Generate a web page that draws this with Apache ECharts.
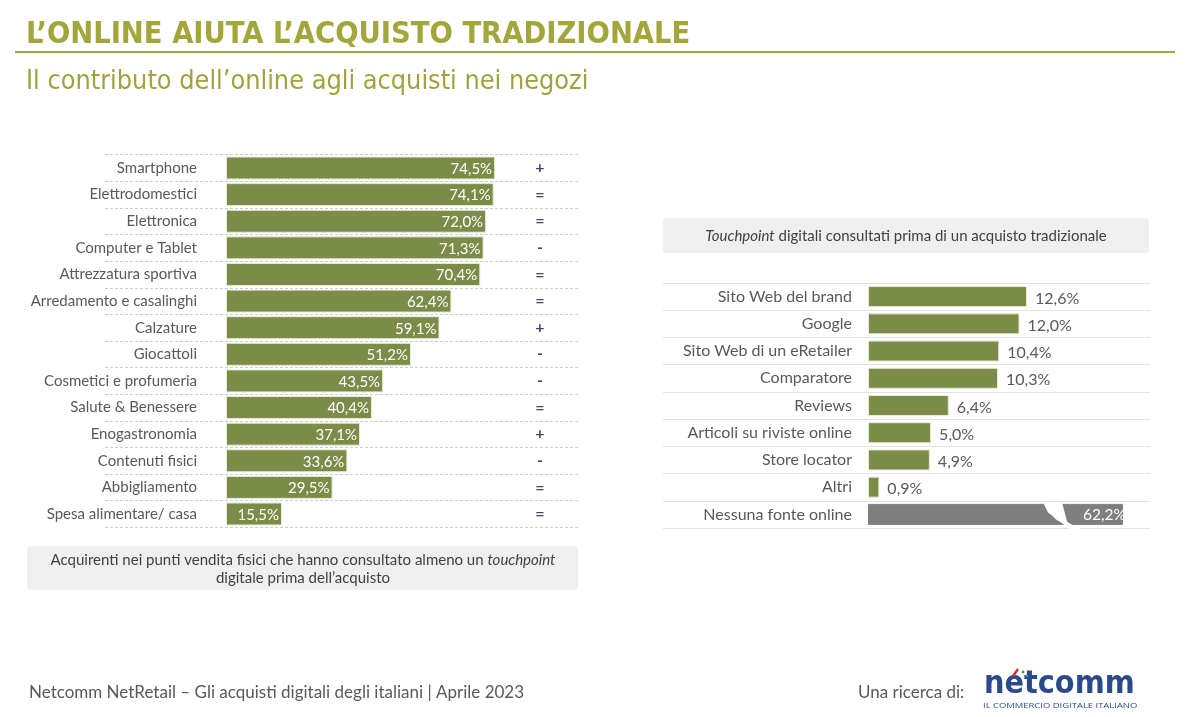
<!DOCTYPE html>
<html>
<head>
<meta charset="utf-8">
<script src="https://cdn.jsdelivr.net/npm/echarts@6/dist/echarts.min.js"></script>
<style>html,body{margin:0;padding:0;background:#fff;}#c{width:1200px;height:717px;}</style>
</head>
<body>
<div id="c"></div>
<script>
// ---- data ----
const leftCategories = ['Smartphone','Elettrodomestici','Elettronica','Computer e Tablet','Attrezzatura sportiva','Arredamento e casalinghi','Calzature','Giocattoli','Cosmetici e profumeria','Salute & Benessere','Enogastronomia','Contenuti fisici','Abbigliamento','Spesa alimentare/ casa'];
const leftValues = [74.5,74.1,72.0,71.3,70.4,62.4,59.1,51.2,43.5,40.4,37.1,33.6,29.5,15.5];
const leftTrend = ['+','=','=','-','=','=','+','-','-','=','+','-','=','='];
const rightCategories = ['Sito Web del brand','Google','Sito Web di un eRetailer','Comparatore','Reviews','Articoli su riviste online','Store locator','Altri','Nessuna fonte online'];
const rightValues = [12.6,12.0,10.4,10.3,6.4,5.0,4.9,0.9,62.2];
const axisBreak = {start:14.5, end:58.5};

const fmt = v => v.toFixed(1).replace('.', ',') + '%';
const GREEN = '#7a8c47';
const GREY_TXT = '#595959';
const FONT = 'Lato';

const chart = echarts.init(document.getElementById('c'), null, {renderer:'canvas'});

const lTop = 154.7, lH = 372.6;
const rTop = 283, rH = 245;

const rightData = rightValues.map((v,i) => {
  if (i === rightValues.length - 1) {
    return {value: v, itemStyle:{color:'#7f7f7f', borderColor:'#7f7f7f'},
      label:{position:'insideRight', color:'#fff', offset:[3,1], distance:0, fontSize:15.5}};
  }
  return v;
});

const baseGraphic = [
  {type:'line', shape:{x1:15,y1:52,x2:1175,y2:52}, style:{stroke:'#a3a63a', lineWidth:2}},
  {type:'rect', shape:{x:27,y:546,width:551,height:44,r:4}, style:{fill:'#efefef'}, z:-1},
  {type:'text', x:303, y:560, style:{text:'{n|Acquirenti nei punti vendita fisici che hanno consultato almeno un }{i|touchpoint}', align:'center', verticalAlign:'middle',
    rich:{n:{fontFamily:FONT,fontSize:15,fill:'#404040'}, i:{fontFamily:FONT,fontSize:15,fontStyle:'italic',fill:'#404040'}}}},
  {type:'text', x:303, y:578, style:{text:'digitale prima dell\u2019acquisto', align:'center', verticalAlign:'middle', font:'15px Lato', fill:'#404040'}},
  {type:'rect', shape:{x:663,y:218,width:486,height:35,r:4}, style:{fill:'#efefef'}, z:-1},
  {type:'text', x:906, y:236, style:{text:'{i|Touchpoint}{n| digitali consultati prima di un acquisto tradizionale}', align:'center', verticalAlign:'middle',
    rich:{n:{fontFamily:FONT,fontSize:15,fill:'#404040'}, i:{fontFamily:FONT,fontSize:15,fontStyle:'italic',fill:'#404040'}}}},
  {type:'text', x:984, y:685, style:{text:'netcomm', align:'left', verticalAlign:'middle', font:'bold 32px "DejaVu Sans Condensed"', fill:'#2b4a8c'}},
  {type:'line', shape:{x1:1013,y1:676,x2:1018,y2:669}, style:{stroke:'#d9302c', lineWidth:2.5}},
  {type:'circle', shape:{cx:1023,cy:672,r:1.4}, style:{fill:'#3aa35a'}},
  {type:'circle', shape:{cx:1027,cy:676,r:1.3}, style:{fill:'#3aa35a'}},
  {type:'text', x:983, y:706, scaleX:1.18, style:{text:'IL COMMERCIO DIGITALE ITALIANO', align:'left', verticalAlign:'middle', font:'8px "Open Sans"', fill:'#2b4a8c'}}
];

const option = {
  backgroundColor:'#fff',
  animation:false,
  title:[
    {text:'L\u2019ONLINE AIUTA L\u2019ACQUISTO TRADIZIONALE', left:21, top:15,
     textStyle:{fontFamily:'Liberation Sans Narrow, DejaVu Sans Condensed, sans-serif', fontWeight:'bold', fontSize:30.5, color:'#a3a63a'}},
    {text:'Il contributo dell\u2019online agli acquisti nei negozi', left:21, top:64,
     textStyle:{fontFamily:'Liberation Sans Narrow, DejaVu Sans Condensed, sans-serif', fontWeight:'normal', fontSize:26.8, color:'#a0a33c'}},
    {text:'Netcomm NetRetail \u2013 Gli acquisti digitali degli italiani | Aprile 2023', left:24, top:679,
     textStyle:{fontFamily:FONT, fontWeight:'normal', fontSize:17, color:GREY_TXT}},
    {text:'Una ricerca di:', left:853, top:679,
     textStyle:{fontFamily:FONT, fontWeight:'normal', fontSize:17, color:GREY_TXT}}
  ],
  graphic: baseGraphic,
  grid:[
    {left:105, width:475, top:lTop, height:lH},
    {left:226, width:289, top:lTop, height:lH},
    {left:663, width:487, top:rTop, height:rH},
    {left:868, width:255, top:rTop, height:rH}
  ],
  xAxis:[
    {gridIndex:0, type:'value', min:0, max:1, show:false},
    {gridIndex:1, type:'value', min:0, max:80, show:false},
    {gridIndex:2, type:'value', min:0, max:1, show:false},
    {gridIndex:3, type:'value', min:0, max:62.2, show:true,
     axisLine:{show:false}, axisTick:{show:false}, axisLabel:{show:false}, splitLine:{show:false},
     breaks:[{start:axisBreak.start, end:axisBreak.end, gap:2}],
     breakArea:{show:false}
    }
  ],
  yAxis:[
    {gridIndex:0, type:'category', inverse:true, data:leftCategories, axisLine:{show:false}, axisTick:{show:false}, axisLabel:{show:false},
     splitLine:{show:true, lineStyle:{type:[3,2], color:'#cccccc', width:1}}},
    {gridIndex:1, type:'category', inverse:true, data:leftCategories, axisLine:{show:false}, axisTick:{show:false},
     axisLabel:{margin:29, fontFamily:FONT, fontSize:15, color:GREY_TXT}},
    {gridIndex:1, type:'category', inverse:true, position:'right', data:leftTrend, axisLine:{show:false}, axisTick:{show:false},
     axisLabel:{margin:25, align:'center', fontFamily:FONT, fontSize:16, fontWeight:'bold', color:'#3b4b6b'}},
    {gridIndex:2, type:'category', inverse:true, data:rightCategories, axisLine:{show:false}, axisTick:{show:false}, axisLabel:{show:false},
     splitLine:{show:true, lineStyle:{color:'#e3e3e3', width:1}}},
    {gridIndex:3, type:'category', inverse:true, data:rightCategories, axisLine:{show:false}, axisTick:{show:false},
     axisLabel:{margin:16, fontFamily:FONT, fontSize:16, color:GREY_TXT}}
  ],
  series:[
    {type:'bar', xAxisIndex:1, yAxisIndex:1, data:leftValues, barWidth:23,
     itemStyle:{color:GREEN, borderColor:'#e8ecd8', borderWidth:1},
     label:{show:true, position:'insideRight', offset:[2,1], formatter:p=>fmt(p.value), color:'#fff', fontFamily:FONT, fontSize:15}},
    {type:'bar', xAxisIndex:3, yAxisIndex:4, data:rightData, barWidth:21,
     itemStyle:{color:GREEN, borderColor:'#e8ecd8', borderWidth:1},
     label:{show:true, position:'right', distance:8, offset:[0,2], formatter:p=>fmt(p.value), color:GREY_TXT, fontFamily:FONT, fontSize:16}}
  ]
};
chart.setOption(option);

// break marker on the broken bar, positioned through the axis scale
const lastIdx = rightCategories.length - 1;
const pStart = chart.convertToPixel({xAxisIndex:3, yAxisIndex:4}, [axisBreak.start, rightCategories[lastIdx]]);
const cy = pStart[1], x0 = pStart[0];
const t = cy - 12, b = cy + 13;
chart.setOption({graphic: baseGraphic.concat([
  {type:'polygon', z:100, shape:{points:[
    [x0-8,t],[x0+11,t],[x0+16,b-6],[x0+22,b-2],[x0+32,b+2],[x0+19,b+2],
    [x0+14,b-2],[x0+10,b-5],[x0+5,b-8],[x0+1,b-12],[x0-3,b-15],[x0-5,b-19]]},
   style:{fill:'#fff'}}
])});
</script>
</body>
</html>
